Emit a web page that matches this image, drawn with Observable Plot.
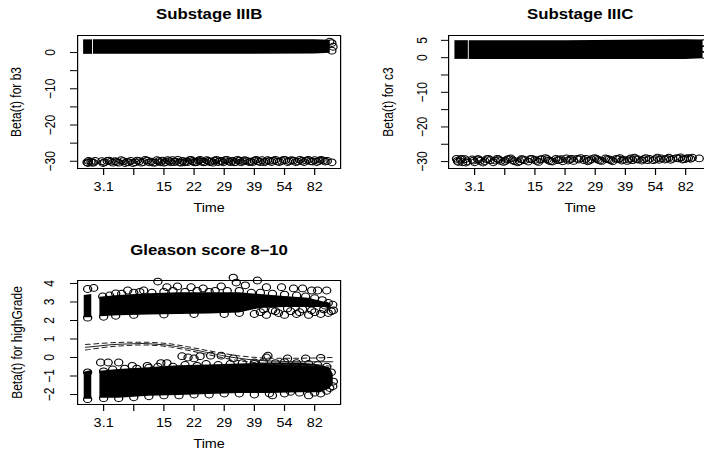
<!DOCTYPE html>
<html><head><meta charset="utf-8">
<script src="https://cdn.jsdelivr.net/npm/d3@7"></script>
<script src="https://cdn.jsdelivr.net/npm/@observablehq/plot@0.6"></script>
<style>
html,body{margin:0;padding:0;background:#fff;}
#wrap{position:relative;width:704px;height:453px;overflow:hidden;background:#fff;}
</style></head><body><div id="wrap"></div>
<script>
// ---------- shared axis values ----------
const tickT = [0.1, 0.2, 0.3, 0.4, 0.5, 0.6, 0.7, 0.8];
const tickLabels = ["3.1", "", "15", "22", "29", "39", "54", "82"];
const xDomain = [0.0137, 0.886];

// ---------- Panel 1: Substage IIIB (b3) ----------
const b3Title = "Substage IIIB";
const b3YLabel = "Beta(t) for b3";
const b3YDomain = [-32.0, 4.7];
const b3YTicks = [-30, -25, -20, -15, -10, -5, 0];
const b3YLabelVals = [-30, -20, -10, 0];
const b3BandSeg = [1, 1, 2, 2, 2, 2, 2, 2];
const b3BandT  = [0.034, 0.0635, 0.0665, 0.2, 0.4, 0.6, 0.8, 0.852];
const b3BandLo = [-0.5, -0.5, -0.5, -0.5, -0.5, -0.5, -0.4, -0.2];
const b3BandHi = [3.5, 3.5, 3.5, 3.5, 3.55, 3.55, 3.5, 3.4];
const b3UpperT = [0.857, 0.861, 0.857, 0.85];
const b3UpperY = [2.6, 1.6, 0.5, 3.0];
const b3LowerT = [0.045,0.050,0.058,0.066,0.072,0.094,0.103,0.112,0.125,0.138,0.150,0.165,0.178,0.190,0.205,0.218,0.232,0.245,0.258,0.270,0.283,0.295,0.305,0.318,0.328,0.340,0.352,0.362,0.373,0.385,0.395,0.405,0.415,0.425,0.436,0.447,0.458,0.468,0.480,0.492,0.503,0.515,0.527,0.538,0.550,0.562,0.575,0.588,0.600,0.612,0.625,0.638,0.650,0.663,0.676,0.690,0.703,0.716,0.730,0.744,0.758,0.772,0.786,0.800,0.814,0.828,0.842,0.857,
  0.048,0.062,0.098,0.118,0.131,0.144,0.158,0.171,0.184,0.197,0.211,0.225,0.238,0.251,0.264,0.277,0.289,0.300,0.312,0.323,0.334,0.346,0.357,0.368,0.379,0.390,0.400,0.410,0.420,0.431,0.442,0.452,0.463,0.474,0.486,0.497,0.509,0.521,0.533,0.544,0.556,0.568,0.582,0.594,0.606,0.619,0.632,0.644,0.657,0.670,0.683,0.697,0.710,0.723,0.737,0.751,0.765,0.779,0.793,0.807,0.821,0.835];
const b3LowerY = [-30.3,-29.9,-30.1,-30.4,-29.9,-30.0,-30.3,-29.9,-30.1,-30.0,-30.4,-30.0,-30.2,-29.9,-30.3,-30.0,-30.2,-29.8,-30.1,-30.4,-30.0,-29.8,-30.2,-30.0,-29.7,-30.1,-30.3,-29.9,-30.1,-29.7,-30.0,-30.3,-29.8,-30.1,-30.2,-29.9,-30.1,-29.8,-30.2,-30.0,-29.7,-30.1,-29.9,-30.2,-29.8,-30.0,-29.9,-30.1,-29.8,-30.0,-29.7,-30.1,-29.9,-29.8,-30.1,-29.9,-29.7,-30.0,-29.8,-30.1,-29.9,-29.8,-30.0,-29.7,-29.9,-29.8,-29.9,-30.3,
  -30.5,-30.4,-30.5,-29.8,-30.4,-30.2,-29.7,-30.5,-30.3,-30.5,-29.8,-30.4,-29.6,-30.3,-30.4,-29.7,-30.3,-30.4,-29.7,-30.3,-30.2,-29.6,-30.4,-30.3,-30.2,-29.6,-30.3,-30.2,-29.6,-30.3,-29.7,-30.2,-30.4,-29.6,-29.9,-30.3,-29.6,-30.2,-30.3,-29.6,-30.3,-29.7,-30.2,-30.3,-29.6,-30.2,-30.3,-29.7,-30.2,-29.6,-30.2,-29.6,-30.2,-29.7,-30.2,-29.6,-30.2,-29.6,-30.1,-30.2,-29.6,-30.1];

// ---------- Panel 2: Substage IIIC (c3) ----------
const c3Title = "Substage IIIC";
const c3YLabel = "Beta(t) for c3";
const c3YDomain = [-32.0, 6.4];
const c3YTicks = [-30, -25, -20, -15, -10, -5, 0, 5];
const c3YLabelVals = [-30, -20, -10, 0, 5];
const c3BandSeg = [1, 1, 2, 2, 2, 2, 2, 2];
const c3BandT  = [0.035, 0.0795, 0.0825, 0.2, 0.4, 0.6, 0.8, 0.858];
const c3BandLo = [-0.5, -0.5, -0.5, -0.5, -0.5, -0.5, -0.5, -0.3];
const c3BandHi = [4.9, 4.9, 4.9, 4.9, 4.9, 5.0, 5.2, 5.1];
const c3UpperT = [0.862, 0.864, 0.862];
const c3UpperY = [4.2, 2.5, 0.8];
const c3LowerT = [0.040,0.046,0.053,0.060,0.068,0.075,0.092,0.100,0.110,0.118,0.128,0.140,0.152,0.162,0.175,0.186,0.196,0.208,0.220,0.232,0.243,0.255,0.266,0.278,0.290,0.300,0.312,0.323,0.335,0.346,0.358,0.370,0.381,0.392,0.404,0.416,0.428,0.440,0.452,0.463,0.475,0.487,0.498,0.510,0.522,0.534,0.546,0.558,0.570,0.582,0.594,0.606,0.618,0.630,0.642,0.655,0.668,0.680,0.693,0.706,0.718,0.731,0.744,0.757,0.770,0.783,0.796,0.809,0.822,0.845,
  0.043,0.057,0.071,0.096,0.114,0.134,0.146,0.168,0.180,0.202,0.214,0.226,0.249,0.260,0.284,0.306,0.318,0.341,0.352,0.375,0.387,0.410,0.422,0.446,0.469,0.481,0.504,0.516,0.540,0.552,0.576,0.588,0.612,0.624,0.636,0.661,0.674,0.700,0.712,0.737,0.750,0.776,0.790,0.803,0.816];
const c3LowerY = [-29.2,-30.1,-29.4,-30.2,-29.3,-29.9,-29.4,-30.2,-29.3,-29.8,-30.3,-29.3,-29.6,-30.2,-29.2,-29.8,-30.1,-29.4,-29.1,-29.9,-30.2,-29.3,-29.6,-30.0,-29.2,-29.5,-30.1,-29.3,-29.0,-29.7,-30.0,-29.2,-29.5,-29.9,-29.1,-29.4,-29.8,-29.2,-29.0,-29.6,-29.9,-29.3,-29.0,-29.5,-29.8,-29.1,-29.4,-29.9,-29.2,-29.0,-29.5,-29.8,-29.1,-28.9,-29.4,-29.7,-29.0,-29.2,-29.6,-28.9,-29.1,-29.4,-28.9,-29.2,-29.0,-28.8,-29.3,-29.0,-28.9,-29.1,
  -29.8,-29.2,-30.3,-29.7,-29.4,-29.9,-29.2,-29.7,-29.4,-29.8,-29.3,-29.6,-29.9,-29.4,-29.3,-29.8,-29.4,-29.3,-29.9,-29.6,-29.3,-29.7,-29.2,-29.4,-29.2,-29.7,-29.2,-29.7,-29.3,-29.6,-29.3,-29.7,-29.4,-29.6,-29.3,-29.3,-29.6,-29.3,-29.5,-29.2,-29.5,-29.1,-29.4,-29.1,-29.2];

// ---------- Panel 3: Gleason score 8-10 (highGrade) ----------
const hgTitle = "Gleason score 8–10";
const hgYLabel = "Beta(t) for highGrade";
const hgYDomain = [-2.54, 4.16];
const hgYTicks = [-2, -1, 0, 1, 2, 3, 4];
const hgYLabelVals = [-2, -1, 0, 1, 2, 3, 4];
const hgHiBandSeg = [1, 1, 2, 2, 2, 2, 2, 2, 2, 2, 2, 2, 2];
const hgHiBandT  = [0.036, 0.061, 0.088, 0.15, 0.25, 0.35, 0.45, 0.55, 0.62, 0.70, 0.78, 0.83, 0.855];
const hgHiBandLo = [2.15, 2.15, 2.2, 2.25, 2.3, 2.32, 2.35, 2.4, 2.65, 2.7, 2.7, 2.7, 2.65];
const hgHiBandHi = [3.35, 3.4, 3.25, 3.35, 3.45, 3.5, 3.5, 3.5, 3.4, 3.3, 3.2, 3.0, 2.9];
const hgLoBandSeg = [1, 1, 2, 2, 2, 2, 2, 2, 2, 2, 2, 2, 2];
const hgLoBandT  = [0.036, 0.061, 0.088, 0.15, 0.25, 0.35, 0.45, 0.55, 0.65, 0.75, 0.82, 0.85, 0.862];
const hgLoBandLo = [-2.25, -2.25, -2.2, -2.2, -2.1, -2.05, -2.0, -1.95, -1.95, -1.9, -1.9, -1.7, -1.45];
const hgLoBandHi = [-0.8, -0.7, -0.75, -0.65, -0.55, -0.45, -0.4, -0.35, -0.3, -0.3, -0.4, -0.55, -0.9];
const hgDotT = [0.047,0.067,0.14,0.18,0.233,0.28,0.31,0.345,0.39,0.43,0.49,0.53,0.54,0.57,0.61,0.64,0.69,0.73,0.76,0.79,0.81,0.84,
  0.097,0.12,0.16,0.20,0.22,0.26,0.30,0.33,0.37,0.41,0.45,0.47,0.51,0.55,0.59,0.62,0.66,0.70,0.74,0.77,0.80,0.825,0.845,0.86,0.862,
  0.047,0.10,0.14,0.20,0.30,0.40,0.50,0.55,0.60,0.62,0.64,0.66,0.68,0.70,0.72,0.74,0.76,0.78,0.80,0.82,0.83,0.845,0.855,0.63,0.67,0.71,0.75,0.79,0.835,
  0.09,0.115,0.15,0.195,0.245,0.29,0.31,0.36,0.38,0.40,0.42,0.455,0.49,0.53,0.60,0.64,0.645,0.71,0.77,0.82,
  0.047,0.10,0.13,0.17,0.21,0.25,0.28,0.33,0.37,0.41,0.44,0.48,0.52,0.56,0.60,0.63,0.67,0.70,0.74,0.78,0.81,0.84,0.855,0.862,0.86,
  0.047,0.10,0.15,0.20,0.25,0.30,0.35,0.40,0.45,0.50,0.55,0.60,0.65,0.70,0.75,0.80,0.82,0.84,0.85,0.78,0.72,0.66];
const hgDotY = [3.70,3.76,3.46,3.62,3.62,4.10,3.80,3.84,3.80,3.73,3.84,4.32,4.05,3.90,4.16,3.80,3.80,3.73,3.73,3.62,3.62,3.62,
  3.30,3.35,3.45,3.50,3.55,3.50,3.55,3.60,3.55,3.60,3.55,3.60,3.60,3.60,3.50,3.50,3.45,3.40,3.35,3.30,3.20,3.10,2.95,2.85,2.55,
  2.15,2.20,2.25,2.30,2.32,2.35,2.35,2.40,2.35,2.45,2.30,2.55,2.40,2.30,2.50,2.35,2.60,2.30,2.45,2.35,2.60,2.40,2.50,2.60,2.50,2.65,2.45,2.55,2.80,
  -0.27,-0.27,-0.27,-0.45,-0.45,-0.30,-0.30,0.07,0.00,-0.05,0.07,0.10,0.10,-0.05,-0.27,0.00,0.10,-0.05,-0.05,-0.02,
  -0.80,-0.75,-0.65,-0.60,-0.60,-0.55,-0.50,-0.50,-0.40,-0.45,-0.35,-0.40,-0.35,-0.30,-0.35,-0.25,-0.30,-0.25,-0.30,-0.35,-0.40,-0.50,-0.80,-1.30,-1.55,
  -2.25,-2.20,-2.20,-2.15,-2.10,-2.05,-2.05,-2.00,-2.00,-1.95,-1.95,-2.00,-1.95,-1.95,-1.90,-1.90,-1.95,-1.80,-1.65,-2.05,-1.85,-2.05];
const hgFitT  = [0.04, 0.10, 0.15, 0.20, 0.25, 0.30, 0.35, 0.40, 0.45, 0.50, 0.55, 0.60, 0.65, 0.70, 0.78, 0.86];
const hgFit   = [0.55, 0.66, 0.72, 0.75, 0.76, 0.70, 0.58, 0.42, 0.25, 0.08, -0.05, -0.14, -0.19, -0.22, -0.23, -0.23];
const hgUpper = [0.70, 0.77, 0.82, 0.83, 0.83, 0.78, 0.67, 0.52, 0.36, 0.20, 0.08, 0.00, -0.04, -0.05, -0.03, 0.00];
const hgLower = [0.40, 0.55, 0.62, 0.67, 0.69, 0.62, 0.49, 0.32, 0.14, -0.04, -0.18, -0.28, -0.34, -0.39, -0.43, -0.46];

// ---------- helpers ----------
const SX = 1.2; // horizontal stretch of the reference image
const FONT = "'Liberation Sans', Arial, Helvetica, sans-serif";
const wrap = document.getElementById("wrap");
const labelOf = d => { const i = tickT.findIndex(v => Math.abs(v - d) < 1e-9); return i < 0 ? "" : tickLabels[i]; };
const fmtY = d => d < 0 ? "\u2212" + (-d) : String(d);
const band = (seg, t, lo, hi) => t.map((v, i) => ({seg: seg[i], t: v, lo: lo[i], hi: hi[i]}));
const pts = (t, y) => t.map((v, i) => ({t: v, y: y[i]}));

function panel(cfg) {
  const vbW = cfg.w / SX;
  const ml = (cfg.box[0] - cfg.left) / SX;
  const mr = (cfg.left + cfg.w - cfg.box[1]) / SX;
  const mt = cfg.box[2] - cfg.top;
  const mb = cfg.top + cfg.h - cfg.box[3];
  const svg = Plot.plot({
    width: vbW, height: cfg.h,
    marginLeft: ml, marginRight: mr, marginTop: mt, marginBottom: mb,
    x: {domain: xDomain, label: null},
    y: {domain: cfg.yDomain, label: null},
    style: {fontFamily: FONT, fontSize: "12px", background: "white", color: "black", overflow: "visible"},
    marks: [
      ...cfg.marks,
      Plot.frame({stroke: "black", strokeWidth: 1}),
      Plot.axisX({ticks: tickT, tickSize: 7, tickPadding: 7, tickFormat: labelOf, label: null, fontSize: 12}),
      Plot.axisY({ticks: cfg.yTicks, tickSize: 7 / SX, tickFormat: () => "", label: null}),
      Plot.text(cfg.yLabelVals, {y: d => d, text: fmtY, frameAnchor: "left", dx: -cfg.tickLabOff / SX, rotate: -90, textAnchor: "middle", lineAnchor: "middle", fontSize: 12}),
      Plot.text([cfg.ylab], {text: d => d, frameAnchor: "left", dx: -cfg.ylabOff / SX, rotate: -90, textAnchor: "middle", lineAnchor: "middle", fontSize: 12}),
      Plot.text(["Time"], {text: d => d, frameAnchor: "bottom", dy: cfg.timeOff, lineAnchor: "middle", fontSize: 12}),
      Plot.text([cfg.title], {text: d => d, frameAnchor: "top", dy: -cfg.titleOff, lineAnchor: "middle", fontSize: 14, fontWeight: "bold"})
    ]
  });
  svg.setAttribute("width", cfg.w);
  svg.setAttribute("height", cfg.h);
  svg.setAttribute("preserveAspectRatio", "none");
  Object.assign(svg.style, {position: "absolute", left: cfg.left + "px", top: cfg.top + "px",
    width: cfg.w + "px", height: cfg.h + "px", maxWidth: "none"});
  wrap.appendChild(svg);
}

const dotOpts = {x: "t", y: "y", r: 3.4, stroke: "black", fill: "none", strokeWidth: 1};
const areaOpts = {x: "t", y1: "lo", y2: "hi", z: "seg", fill: "black"};

panel({
  left: 0, top: 0, w: 352, h: 226, box: [77, 340, 35, 168],
  yDomain: b3YDomain, yTicks: b3YTicks, yLabelVals: b3YLabelVals,
  title: b3Title, ylab: b3YLabel, tickLabOff: 27, ylabOff: 61, timeOff: 40, titleOff: 21,
  marks: [
    Plot.areaY(band(b3BandSeg, b3BandT, b3BandLo, b3BandHi), areaOpts),
    Plot.dot(pts(b3UpperT, b3UpperY), dotOpts),
    Plot.dot(pts(b3LowerT, b3LowerY), dotOpts)
  ]
});

panel({
  left: 352, top: 0, w: 362, h: 226, box: [448, 711, 35, 168],
  yDomain: c3YDomain, yTicks: c3YTicks, yLabelVals: c3YLabelVals,
  title: c3Title, ylab: c3YLabel, tickLabOff: 26, ylabOff: 60, timeOff: 40, titleOff: 21,
  marks: [
    Plot.areaY(band(c3BandSeg, c3BandT, c3BandLo, c3BandHi), areaOpts),
    Plot.dot(pts(c3UpperT, c3UpperY), dotOpts),
    Plot.dot(pts(c3LowerT, c3LowerY), dotOpts)
  ]
});

panel({
  left: 0, top: 226, w: 352, h: 227, box: [77, 340, 280, 404],
  yDomain: hgYDomain, yTicks: hgYTicks, yLabelVals: hgYLabelVals,
  title: hgTitle, ylab: hgYLabel, tickLabOff: 28, ylabOff: 60, timeOff: 40, titleOff: 30,
  marks: [
    Plot.areaY(band(hgHiBandSeg, hgHiBandT, hgHiBandLo, hgHiBandHi), areaOpts),
    Plot.areaY(band(hgLoBandSeg, hgLoBandT, hgLoBandLo, hgLoBandHi), areaOpts),
    Plot.dot(pts(hgDotT, hgDotY), dotOpts),
    Plot.line(pts(hgFitT, hgFit), {x: "t", y: "y", stroke: "#222", strokeWidth: 1, curve: "basis"}),
    Plot.line(pts(hgFitT, hgUpper), {x: "t", y: "y", stroke: "#222", strokeWidth: 1, strokeDasharray: "4,3", curve: "basis"}),
    Plot.line(pts(hgFitT, hgLower), {x: "t", y: "y", stroke: "#222", strokeWidth: 1, strokeDasharray: "4,3", curve: "basis"})
  ]
});
</script></body></html>
